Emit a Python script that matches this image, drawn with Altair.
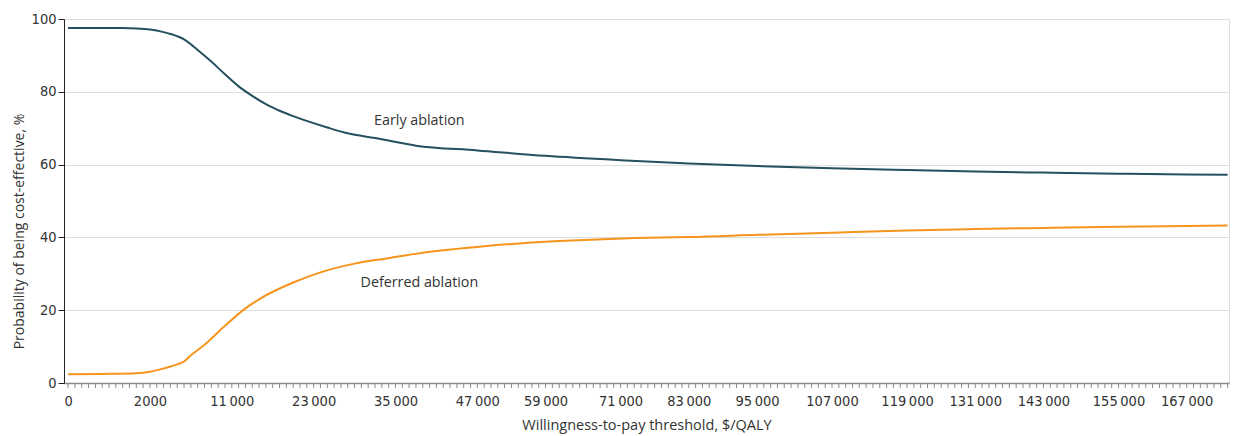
import json
import altair as alt
import pandas as pd

# x positions are category indices along the WTP axis (one tick per category)
early_idx = [0, 8, 10, 12, 14, 15, 17, 19, 21, 23, 25, 27, 29, 31, 33, 38, 41, 45, 51, 60, 70, 81, 91, 101, 112, 123, 133, 143, 154, 164, 170]
early_val = [97.5, 97.5, 97.4, 97.1, 96.4, 95.9, 94.4, 91.5, 88.3, 84.8, 81.5, 78.9, 76.6, 74.8, 73.3, 70.2, 68.6, 67.3, 65.2, 63.9, 62.4, 61.2, 60.3, 59.6, 59.0, 58.5, 58.1, 57.8, 57.5, 57.3, 57.2]

deferred_idx = [0, 5, 10, 12, 14, 16, 17, 18, 20, 23, 26, 28, 33, 37, 42, 47, 52, 61, 72, 87, 91, 101, 112, 123, 133, 143, 154, 164, 170]
deferred_val = [2.4, 2.5, 2.7, 3.1, 4.0, 5.1, 5.9, 7.6, 10.5, 15.7, 20.5, 23.0, 27.6, 30.4, 32.8, 34.3, 35.8, 37.6, 39.0, 40.0, 40.1, 40.7, 41.3, 41.9, 42.3, 42.6, 42.9, 43.1, 43.3]

# labelled WTP thresholds and the category index where each label sits
tick_wtp = [0, 2000, 11000, 23000, 35000, 47000, 59000, 71000, 83000, 95000,
            107000, 119000, 131000, 143000, 155000, 167000]
tick_idx = [0, 12, 24, 36, 48, 60, 70, 81, 91, 101, 112, 123, 133, 143, 154, 164]
n_categories = 171

labels_text = ["Early ablation", "Deferred ablation"]
labels_idx = [51.5, 51.5]
labels_val = [71.9, 27.4]

TICKFONT = "DejaVu Sans Condensed, sans-serif"
FONT = "Open Sans, sans-serif"
TEXT = "#333333"
EARLY = "#25505e"
DEFER = "#f7941d"

def fmt(v):
    return f"{v:,}".replace(",", "\u2009") if v >= 10000 else str(v)

tick_labels = [fmt(v) for v in tick_wtp]
label_expr = f"{json.dumps(tick_labels)}[indexof({json.dumps(tick_idx)}, datum.value)]"

df = pd.concat([
    pd.DataFrame({"idx": early_idx, "val": early_val, "series": "Early ablation"}),
    pd.DataFrame({"idx": deferred_idx, "val": deferred_val, "series": "Deferred ablation"}),
])

W, H = 1165, 364
xscale = alt.Scale(domain=[-0.6, 170.2], nice=False, zero=False)
yscale = alt.Scale(domain=[0, 100], nice=False)

x_axis = alt.Axis(
    title="Willingness-to-pay threshold, $/QALY",
    values=tick_idx,
    labelExpr=label_expr,
    labelOverlap=False, labelFlush=False, labelBound=False,
    grid=False, ticks=False,
    domainColor="#8a8a8a", domainWidth=1.5,
    labelFont=TICKFONT, labelFontSize=14.5, labelColor=TEXT, labelPadding=11,
    titleFont=FONT, titleFontSize=14.5, titleColor=TEXT, titleFontWeight="normal",
    titlePadding=11,
)
y_axis = alt.Axis(
    title="Probability of being cost-effective, %",
    values=[0, 20, 40, 60, 80, 100],
    grid=True, gridColor="#dedede", gridWidth=1,
    tickSize=6, tickColor="#222222", domainColor="#222222", domainWidth=1,
    labelFont=TICKFONT, labelFontSize=14.5, labelColor=TEXT, labelPadding=2,
    titleFont=FONT, titleFontSize=14, titleColor=TEXT, titleFontWeight="normal",
    titlePadding=5, titleY=212,
)

lines = alt.Chart(df).mark_line(strokeWidth=2, interpolate="monotone").encode(
    x=alt.X("idx:Q", scale=xscale, axis=x_axis),
    y=alt.Y("val:Q", scale=yscale, axis=y_axis),
    color=alt.Color("series:N", scale=alt.Scale(domain=["Early ablation", "Deferred ablation"],
                                                range=[EARLY, DEFER]), legend=None),
)

# minor category ticks below the x axis
tick_df = pd.DataFrame({"idx": list(range(n_categories))})
minor = alt.Chart(tick_df).mark_rule(color="#8a8a8a", strokeWidth=1).encode(
    x=alt.X("idx:Q", scale=xscale),
    y=alt.value(H + 1),
    y2=alt.value(H + 5),
)

lab_df = pd.DataFrame({"idx": labels_idx, "val": labels_val, "text": labels_text})
texts = alt.Chart(lab_df).mark_text(font=FONT, fontSize=14.3, color=TEXT, align="center",
                                    baseline="middle").encode(
    x=alt.X("idx:Q", scale=xscale),
    y=alt.Y("val:Q", scale=yscale),
    text="text:N",
)

chart = (lines + minor + texts).properties(
    width=W, height=H,
    padding={"left": 4, "top": 3, "right": 5, "bottom": 5},
).configure_view(stroke=None).configure(background="white")

chart.save("out.html", embed_options={"renderer": "svg", "actions": False})
